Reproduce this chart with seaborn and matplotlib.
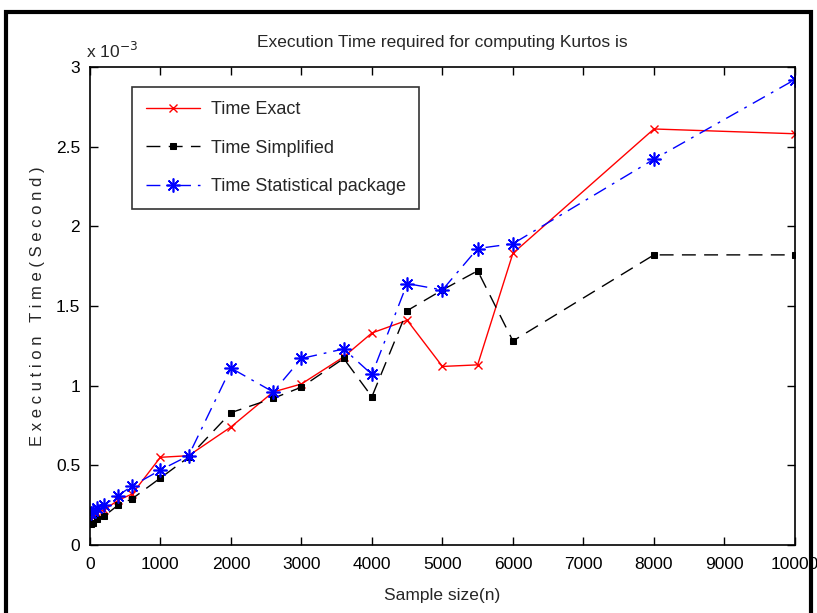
import matplotlib
matplotlib.use("Agg")
import matplotlib.pyplot as plt
import seaborn as sns
import numpy as np
import pandas as pd
from matplotlib.ticker import FuncFormatter, FixedLocator
from matplotlib.patches import Rectangle

sample_size = [10, 50, 100, 200, 400, 600, 1000, 1400, 2000, 2600, 3000, 3600,
               4000, 4500, 5000, 5500, 6000, 8000, 10000]
time_exact = [0.16, 0.18, 0.20, 0.22, 0.28, 0.32, 0.55, 0.56, 0.74, 0.96, 1.01, 1.18,
              1.33, 1.41, 1.12, 1.13, 1.83, 2.61, 2.58]
time_simplified = [0.13, 0.14, 0.16, 0.18, 0.25, 0.29, 0.42, 0.55, 0.83, 0.92, 0.99, 1.17,
                   0.93, 1.47, 1.60, 1.72, 1.28, 1.82, 1.82]
time_stat = [0.20, 0.21, 0.23, 0.25, 0.31, 0.37, 0.47, 0.56, 1.11, 0.96, 1.17, 1.23,
             1.07, 1.64, 1.60, 1.86, 1.89, 2.42, 2.92]
scale = 1e-3
x_ticks = [0, 1000, 2000, 3000, 4000, 5000, 6000, 7000, 8000, 9000, 10000]
y_ticks = [0, 0.5, 1, 1.5, 2, 2.5, 3]

sns.set_style("ticks")
font = ['Liberation Sans', 'DejaVu Sans']
plt.rcParams['font.family'] = font

fig = plt.figure(figsize=(8.17, 6.13), dpi=100)
ax = fig.add_axes([0.110, 0.111, 0.863, 0.780])

sx = np.array(sample_size)
sns.lineplot(x=sx, y=np.array(time_exact) * scale, ax=ax, color='#ff0000',
             marker='x', markersize=6, markeredgewidth=1.0,
             markeredgecolor='#ff0000', markerfacecolor='#ff0000', linewidth=1.0,
             label='Time Exact')
sns.lineplot(x=sx, y=np.array(time_simplified) * scale, ax=ax, color='black',
             marker='s', markersize=4, markeredgecolor='black', markerfacecolor='black',
             linewidth=1.0, linestyle=(0, (10, 6)),
             label='Time Simplified')
sns.lineplot(x=sx, y=np.array(time_stat) * scale, ax=ax, color='#0000ff',
             marker=(8, 2, 0), markersize=10, markeredgewidth=1.2,
             markeredgecolor='#0000ff', markerfacecolor='#0000ff',
             linewidth=1.0, linestyle=(0, (10, 5, 2, 5)), label='Time Statistical package')

ax.set_xlim(0, 10000)
ax.set_ylim(0, 3 * scale)
ax.xaxis.set_major_locator(FixedLocator(x_ticks))
ax.yaxis.set_major_locator(FixedLocator([v * scale for v in y_ticks]))
ax.xaxis.set_major_formatter(FuncFormatter(lambda v, p: f"{v:g}"))
ax.yaxis.set_major_formatter(FuncFormatter(lambda v, p: f"{v / scale:g}"))
ax.tick_params(direction='in', top=True, right=True, length=6, width=1,
               labelsize=12.5, colors='black')
ax.tick_params(axis='x', pad=9)
ax.tick_params(axis='y', pad=7)
for s in ax.spines.values():
    s.set_visible(True)
    s.set_linewidth(1.2)
    s.set_color('black')

ax.set_title("Execution Time required for computing Kurtos is", fontsize=12.5, pad=14)
ax.set_xlabel("Sample size(n)", fontsize=12.5, labelpad=11)
ax.set_ylabel("E x e c u t i o n   T i m e ( S e c o n d )", fontsize=12, labelpad=8)
ax.text(-0.005, 1.012, r"x 10$^{-3}$", transform=ax.transAxes, fontsize=12.5,
        ha='left', va='bottom')

leg = ax.legend(loc='upper left', bbox_to_anchor=(0.06, 0.957), fontsize=13,
                frameon=True, fancybox=False, edgecolor='black', borderaxespad=0,
                handlelength=3.0, handletextpad=0.6, borderpad=0.75,
                labelspacing=1.2)
leg.get_frame().set_linewidth(1.2)

fig.patches.append(Rectangle((0.007, -0.02), 0.986, 1.0, transform=fig.transFigure,
                             fill=False, edgecolor='black', linewidth=3))

fig.savefig("out.png", dpi=100)
